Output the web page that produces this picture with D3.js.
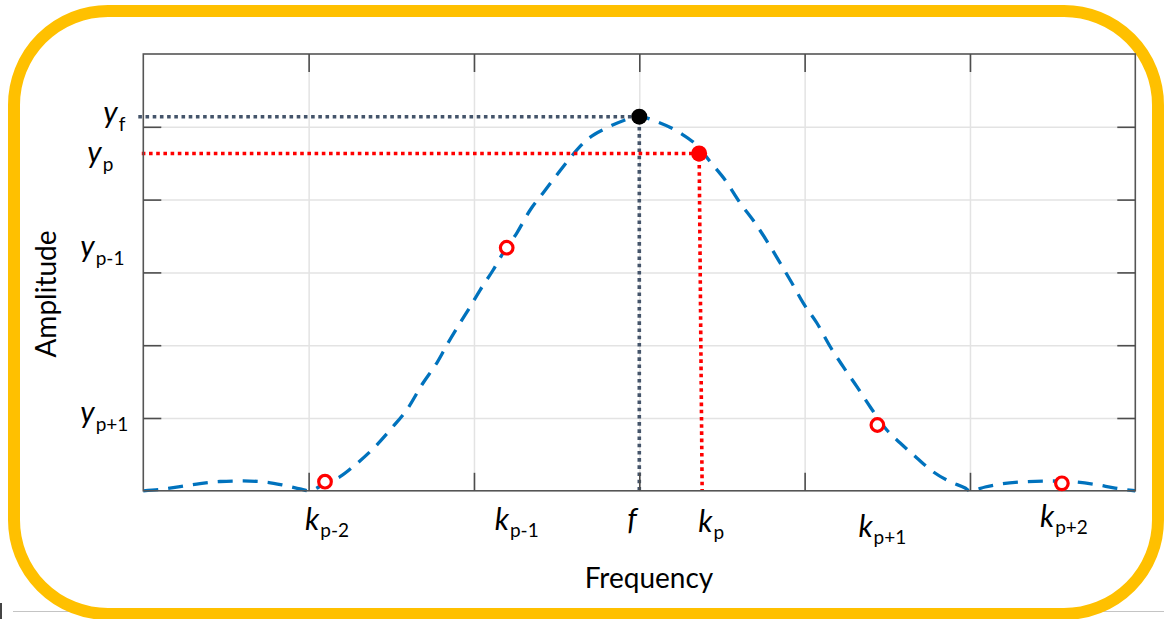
<!DOCTYPE html>
<html>
<head>
<meta charset="utf-8">
<script src="https://cdn.jsdelivr.net/npm/d3@7"></script>
<style>
  html, body { margin: 0; padding: 0; background: #fff; }
  svg { display: block; }
  text { font-family: Lato, "Open Sans", "DejaVu Sans", sans-serif; fill: #000; }
</style>
</head>
<body>
<svg id="chart" width="1164" height="619"></svg>
<script>
// ---- data (frequency in bins, amplitude in grid units) ----
const xTicks = [1, 2, 3, 4, 5];
const yTicks = [1, 2, 3, 4, 5];

// window spectrum magnitude, sampled along the dashed curve
const curveX = [0, 0.101, 0.222, 0.343, 0.464, 0.603, 0.736, 0.856, 0.948, 1.0,
  1.099, 1.190, 1.281, 1.402, 1.503, 1.593, 1.692, 1.775, 1.843, 1.916, 1.976,
  2.037, 2.116, 2.176, 2.259, 2.340, 2.418, 2.501, 2.581, 2.682, 2.803, 2.902,
  3.0, 3.106, 3.247, 3.356, 3.428, 3.519, 3.610, 3.700, 3.779, 3.852, 3.923,
  3.991, 4.074, 4.155, 4.233, 4.316, 4.396, 4.497, 4.578, 4.679, 4.777, 4.880,
  4.971, 5.0, 5.092, 5.183, 5.304, 5.485, 5.636, 5.757, 5.878, 6.0];
const curveY = [0, 0.018, 0.059, 0.100, 0.128, 0.135, 0.121, 0.073, 0.025, 0,
  0.100, 0.194, 0.354, 0.606, 0.863, 1.110, 1.481, 1.755, 2.030, 2.305, 2.525,
  2.758, 3.033, 3.266, 3.541, 3.857, 4.091, 4.338, 4.571, 4.819, 4.984, 5.084,
  5.139, 5.070, 4.915, 4.727, 4.521, 4.269, 3.953, 3.679, 3.404, 3.129, 2.854,
  2.580, 2.305, 1.979, 1.705, 1.430, 1.155, 0.835, 0.657, 0.451, 0.262, 0.125,
  0.038, 0, 0.052, 0.093, 0.121, 0.135, 0.121, 0.087, 0.038, 0];

// true peak (f, y_f) and the largest bin (k_p, y_p)
const peakX = 3.0,   peakY = 5.139;
const kpX   = 3.362, kpY   = 4.633;

// neighbouring DFT bins k_{p-2}, k_{p-1}, k_{p+1}, k_{p+2}
const binX = [1.099, 2.198, 4.440, 5.556];
const binY = [0.125, 3.339, 0.904, 0.103];

// axis annotations
const xLabelMain = ["k", "k", "f", "k", "k", "k"];
const xLabelSub  = ["p-2", "p-1", "", "p", "p+1", "p+2"];
const xLabelAt   = [binX[0], binX[1], peakX, kpX, binX[2], binX[3]];
const yLabelMain = ["y", "y", "y", "y"];
const yLabelSub  = ["f", "p", "p-1", "p+1"];
const yLabelAt   = [peakY, kpY, binY[1], binY[2]];

// ---- layout ----
const W = 1164, H = 619;
const plot = { left: 143.3, right: 1135.3, top: 54, bottom: 490.8 };
const xLabelNudge = [[-20, 39], [-12, 39], [-12, 39], [-1, 41], [-19, 46], [-22, 36]];
const yLabelNudge = [[-40, 6.5], [-56, 9.5], [-63, 9], [-63, -2]];

const svg = d3.select("#chart");
svg.append("rect").attr("width", W).attr("height", H).attr("fill", "#fff");

const x = d3.scaleLinear().domain([0, 6]).range([plot.left, plot.right]);
const y = d3.scaleLinear().domain([0, 6]).range([plot.bottom, plot.top]);
const pw = plot.right - plot.left, ph = plot.bottom - plot.top;

// faint page rule and edge mark underneath the frame
svg.append("line").attr("x1", 13).attr("x2", W).attr("y1", 611.5).attr("y2", 611.5)
  .attr("stroke", "#c4c4c4").attr("stroke-width", 1);
svg.append("rect").attr("x", 0).attr("y", 603).attr("width", 2).attr("height", 16).attr("fill", "#444");

// rounded gold frame
svg.append("rect").attr("x", 14).attr("y", 11).attr("width", 1144).attr("height", 603)
  .attr("rx", 94).attr("ry", 94)
  .attr("fill", "#fff").attr("stroke", "#ffc000").attr("stroke-width", 12);

// grid lines
svg.append("g").attr("transform", `translate(0,${plot.bottom})`)
  .call(d3.axisBottom(x).tickValues(xTicks).tickSize(-ph).tickFormat(""))
  .call(g => g.select(".domain").remove())
  .call(g => g.selectAll("line").attr("stroke", "#e3e3e3").attr("stroke-width", 1.5));
svg.append("g").attr("transform", `translate(${plot.left},0)`)
  .call(d3.axisLeft(y).tickValues(yTicks).tickSize(-pw).tickFormat(""))
  .call(g => g.select(".domain").remove())
  .call(g => g.selectAll("line").attr("stroke", "#e3e3e3").attr("stroke-width", 1.5));

// spectrum curve
const line = d3.line().x(d => x(d[0])).y(d => y(d[1])).curve(d3.curveMonotoneX);
svg.append("path").datum(d3.zip(curveX, curveY))
  .attr("d", line).attr("fill", "none")
  .attr("stroke", "#0072bd").attr("stroke-width", 3.3)
  .attr("stroke-dasharray", "15,10");

// guide lines to the peak and to the largest bin
const guide = (pts, color) => svg.append("path")
  .attr("d", d3.line()(pts)).attr("fill", "none")
  .attr("stroke", color).attr("stroke-width", 3.6).attr("stroke-dasharray", "3.6,3.6");
guide([[x(0) - 5, y(peakY)], [x(peakX), y(peakY)], [x(peakX), y(0)]], "#44546a");
guide([[x(0) - 1.5, y(kpY)], [x(kpX), y(kpY)], [x(kpX) + 3, y(0)]], "#ff0000");

// axis box
svg.append("rect").attr("x", plot.left).attr("y", plot.top).attr("width", pw).attr("height", ph)
  .attr("fill", "none").attr("stroke", "#555").attr("stroke-width", 1.6);

// inward tick marks on all four sides
const tickStyle = g => {
  g.select(".domain").remove();
  g.selectAll("line").attr("stroke", "#4d4d4d").attr("stroke-width", 1.6);
};
svg.append("g").attr("transform", `translate(0,${plot.bottom})`)
  .call(d3.axisBottom(x).tickValues(xTicks).tickSize(-18).tickFormat("")).call(tickStyle);
svg.append("g").attr("transform", `translate(0,${plot.top})`)
  .call(d3.axisTop(x).tickValues(xTicks).tickSize(-18).tickFormat("")).call(tickStyle);
svg.append("g").attr("transform", `translate(${plot.left},0)`)
  .call(d3.axisLeft(y).tickValues(yTicks).tickSize(-18).tickFormat("")).call(tickStyle);
svg.append("g").attr("transform", `translate(${plot.right},0)`)
  .call(d3.axisRight(y).tickValues(yTicks).tickSize(-18).tickFormat("")).call(tickStyle);

// markers
svg.append("g").selectAll("circle").data(d3.zip(binX, binY)).join("circle")
  .attr("cx", d => x(d[0])).attr("cy", d => y(d[1])).attr("r", 6.3)
  .attr("fill", "#fff").attr("stroke", "#ff0000").attr("stroke-width", 3.2);
svg.append("circle").attr("cx", x(kpX)).attr("cy", y(kpY)).attr("r", 8).attr("fill", "#ff0000");
svg.append("circle").attr("cx", x(peakX)).attr("cy", y(peakY)).attr("r", 8).attr("fill", "#000");

// symbol labels with subscripts
function symbol(px, py, main, sub, subDrop) {
  const t = svg.append("text").attr("x", px).attr("y", py);
  t.append("tspan").attr("font-style", "italic").attr("font-size", 30).text(main);
  if (sub) t.append("tspan").attr("font-size", 19).attr("dx", 1).attr("dy", subDrop).text(sub);
}
xLabelMain.forEach((m, i) => symbol(
  x(xLabelAt[i]) + xLabelNudge[i][0], plot.bottom + xLabelNudge[i][1], m, xLabelSub[i], 7));
yLabelMain.forEach((m, i) => symbol(
  plot.left + yLabelNudge[i][0], y(yLabelAt[i]) + yLabelNudge[i][1], m, yLabelSub[i], 8));

// axis titles
svg.append("text").attr("x", 649).attr("y", 588).attr("text-anchor", "middle")
  .attr("font-size", 28).text("Frequency");
svg.append("text").attr("transform", "translate(56,294) rotate(-90)").attr("text-anchor", "middle")
  .attr("font-size", 28).text("Amplitude");
</script>
</body>
</html>
